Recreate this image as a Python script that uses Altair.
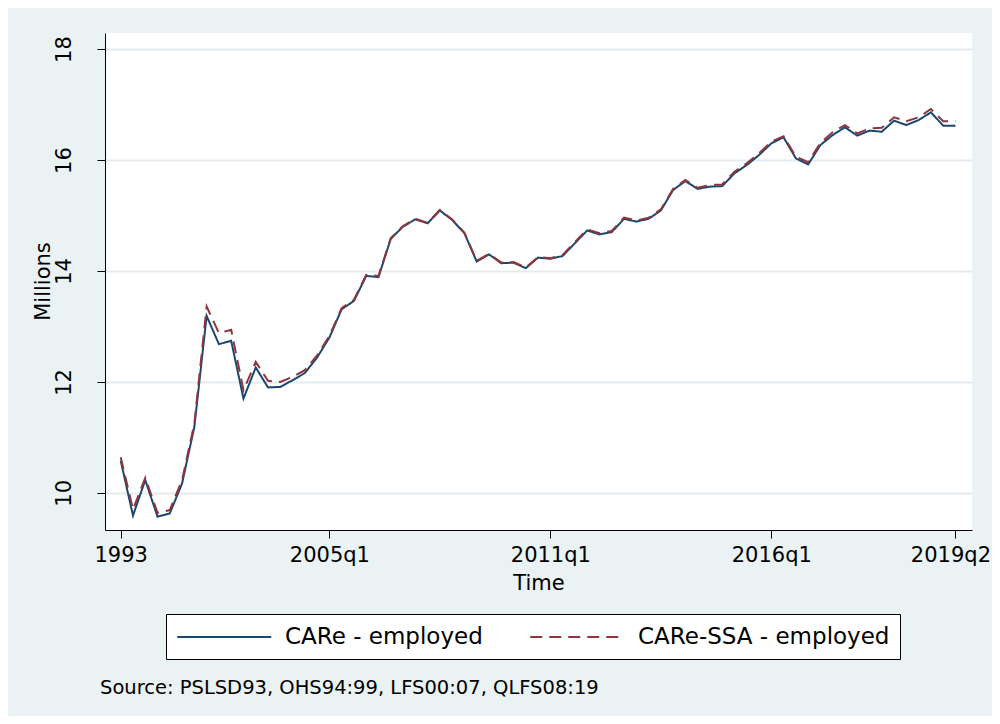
import altair as alt
import pandas as pd

series_names = ["CARe - employed", "CARe-SSA - employed"]
series_colors = ["#1A476F", "#90353B"]

care = [10.58, 9.59, 10.23, 9.57, 9.63, 10.17, 11.19, 13.19, 12.68, 12.74,
        11.70, 12.26, 11.90, 11.91, 12.03, 12.16, 12.44, 12.80, 13.31, 13.46,
        13.91, 13.89, 14.58, 14.80, 14.93, 14.86, 15.09, 14.92, 14.68, 14.17,
        14.30, 14.14, 14.15, 14.05, 14.24, 14.22, 14.27, 14.50, 14.73, 14.66,
        14.70, 14.94, 14.89, 14.94, 15.09, 15.46, 15.62, 15.48, 15.52, 15.53,
        15.76, 15.91, 16.09, 16.30, 16.41, 16.03, 15.92, 16.27, 16.45, 16.59,
        16.44, 16.53, 16.51, 16.71, 16.63, 16.72, 16.86, 16.62, 16.62]

care_ssa = [10.64, 9.70, 10.27, 9.64, 9.69, 10.23, 11.25, 13.36, 12.88, 12.94,
            11.85, 12.36, 12.02, 12.00, 12.09, 12.21, 12.48, 12.83, 13.33, 13.48,
            13.93, 13.91, 14.59, 14.81, 14.94, 14.87, 15.10, 14.93, 14.69, 14.18,
            14.31, 14.15, 14.16, 14.06, 14.25, 14.23, 14.29, 14.52, 14.75, 14.68,
            14.72, 14.96, 14.91, 14.96, 15.11, 15.48, 15.64, 15.50, 15.55, 15.56,
            15.79, 15.94, 16.12, 16.33, 16.43, 16.06, 15.96, 16.31, 16.50, 16.63,
            16.48, 16.57, 16.58, 16.77, 16.70, 16.77, 16.92, 16.70, 16.70]

tick_pos = [0, 17, 35, 53, 68]
tick_labels = ["1993", "2005q1", "2011q1", "2016q1", "2019q2"]
y_ticks = [10, 12, 14, 16, 18]
note = "Source: PSLSD93, OHS94:99, LFS00:07, QLFS08:19"

rows = []
for name, vals in zip(series_names, [care, care_ssa]):
    for i, v in enumerate(vals):
        rows.append({"t": i, "value": v, "series": name})
df = pd.DataFrame(rows)

label_expr = " : ".join(
    f"datum.value == {p} ? '{l}'" for p, l in zip(tick_pos, tick_labels)
) + " : ''"

FONT = "DejaVu Sans"
FS = 21

lines = alt.Chart(df).mark_line(strokeWidth=2).encode(
    x=alt.X("t:Q",
            scale=alt.Scale(domain=[-1.28, 69.35], nice=False, zero=False),
            axis=alt.Axis(values=tick_pos, labelExpr=label_expr, title="Time",
                          grid=False, tickSize=8, labelPadding=6,
                          labelOffset=alt.condition(f"datum.value == {tick_pos[-1]}",
                                                    alt.value(-5), alt.value(0)),
                          titleY=53, titleBaseline="middle")),
    y=alt.Y("value:Q",
            scale=alt.Scale(domain=[9.33, 18.29], nice=False, zero=False),
            axis=alt.Axis(values=y_ticks, title="Millions", tickSize=8,
                          labelAngle=270, labelAlign="center", labelBaseline="bottom",
                          labelPadding=23, titleX=-62, titleY=248,
                          titleBaseline="middle", grid=True)),
    color=alt.Color("series:N",
                    scale=alt.Scale(domain=series_names, range=series_colors),
                    legend=alt.Legend(title=None, orient="none", legendX=61, legendY=581,
                                      direction="horizontal", symbolType="M-1,0H7",
                                      symbolSize=552, symbolStrokeWidth=2,
                                      labelOffset=83, columnPadding=43,
                                      labelLimit=400,
                                      strokeColor="black", fillColor="white",
                                      padding=10, labelFontSize=23, labelFont=FONT,
                                      labelColor="black")),
    strokeDash=alt.StrokeDash("series:N",
                              scale=alt.Scale(domain=series_names, range=[[1, 0], [12, 7]]),
                              legend=None),
)

note_layer = alt.Chart(pd.DataFrame({"txt": [note]})).mark_text(
    align="left", baseline="middle", fontSize=19.5, font=FONT, color="black"
).encode(text="txt:N", x=alt.value(-5), y=alt.value(655))

chart = alt.layer(lines, note_layer).properties(
    width=867, height=497,
    autosize=alt.AutoSizeParams(type="none"),
    padding={"left": 97, "top": 25, "right": 20, "bottom": 186},
    background="#EAF2F3",
).configure_view(
    stroke=None, fill="white"
).configure_axis(
    labelFont=FONT, titleFont=FONT, labelFontSize=FS, titleFontSize=FS,
    labelColor="black", titleColor="black", titleFontWeight="normal",
    domainColor="black", domainWidth=1, tickColor="black", tickWidth=1,
    gridColor="#E4ECEF", gridWidth=2,
)

chart.save("out.html", embed_options={"renderer": "svg", "actions": False})
